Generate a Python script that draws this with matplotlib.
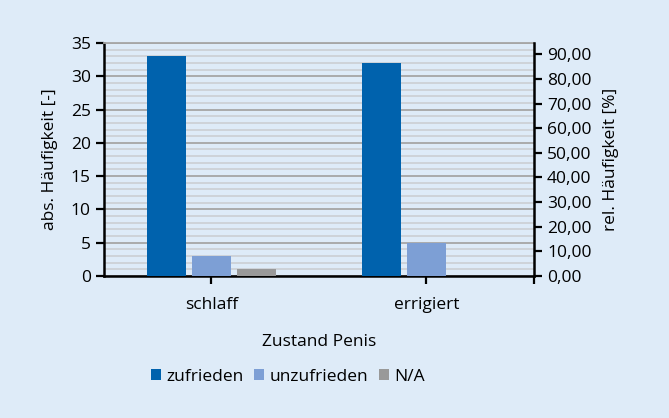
import matplotlib.pyplot as plt
import numpy as np
from matplotlib.ticker import MultipleLocator, FuncFormatter

categories = ['schlaff', 'errigiert']
zufrieden = [33, 32]
unzufrieden = [3, 5]
na = [1, 0]
total = 37  # respondents per state

bg = '#deebf8'
fs = 12.5
plt.rcParams['font.family'] = ['Open Sans', 'DejaVu Sans']

fig = plt.figure(figsize=(6.69, 4.18), dpi=100, facecolor=bg)
ax = fig.add_axes([0.1555, 0.340, 0.6425, 0.557])
ax.set_facecolor(bg)

x = np.arange(len(categories))
w = 0.18
step = 0.21
ax.bar(x - step, zufrieden, w, color='#0062ad', label='zufrieden', zorder=3)
ax.bar(x, unzufrieden, w, color='#7d9fd5', label='unzufrieden', zorder=3)
ax.bar(x + step, na, w, color='#999999', label='N/A', zorder=3)

ax.set_xlim(-0.5, 1.5)
ax.set_ylim(0, 35)
ax.set_xticks([0, 1, 1.5])
ax.set_xticklabels(categories + [''])
ax.yaxis.set_major_locator(MultipleLocator(5))
ax.yaxis.set_minor_locator(MultipleLocator(1))
ax.grid(axis='y', which='major', color='#a6a6a6', lw=1.3, zorder=0)
ax.grid(axis='y', which='minor', color='#cdd1d6', lw=1.3, zorder=0)
ax.tick_params(axis='y', which='minor', length=0)
ax.tick_params(axis='both', which='major', labelsize=fs, width=1.6, length=6,
               colors='black', direction='out')
ax.tick_params(axis='x', pad=9)

for s in ['left', 'bottom']:
    ax.spines[s].set_color('black')
    ax.spines[s].set_linewidth(1.8)
ax.spines['top'].set_color('#a6a6a6')
ax.spines['top'].set_linewidth(1.3)
ax.spines['right'].set_visible(False)

ax.set_ylabel('abs. Häufigkeit [-]', fontsize=fs, labelpad=9)
ax.set_xlabel('Zustand Penis', fontsize=fs, labelpad=15)

ax2 = ax.twinx()
ax2.set_ylim(0, 35 / total * 100)
ax2.yaxis.set_major_locator(MultipleLocator(10))
ax2.yaxis.set_major_formatter(FuncFormatter(lambda v, p: f'{v:.2f}'.replace('.', ',')))
ax2.tick_params(axis='y', labelsize=fs, width=1.6, length=6, direction='out')
for s in ['left', 'bottom', 'top']:
    ax2.spines[s].set_visible(False)
ax2.spines['right'].set_color('black')
ax2.spines['right'].set_linewidth(1.8)
ax2.set_ylabel('rel. Häufigkeit [%]', fontsize=fs, labelpad=8)

fig.legend(loc='center', bbox_to_anchor=(0.43, 0.098), ncol=3, frameon=False,
           fontsize=fs, handlelength=0.6, handleheight=0.6, handletextpad=0.3,
           columnspacing=0.6)

fig.savefig('out.png', dpi=100, facecolor=bg)
